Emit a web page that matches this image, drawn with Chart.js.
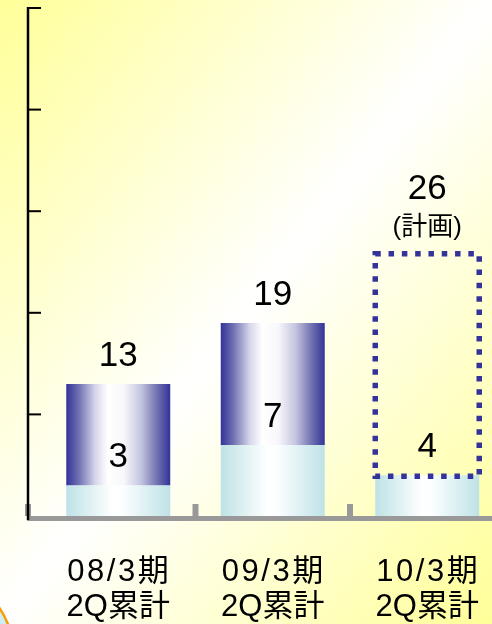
<!DOCTYPE html>
<html>
<head>
<meta charset="utf-8">
<script src="https://cdn.jsdelivr.net/npm/chart.js@4.4.0/dist/chart.umd.min.js"></script>
<style>
html, body {
  margin: 0;
  padding: 0;
  width: 492px;
  height: 624px;
  overflow: hidden;
  background: linear-gradient(to bottom right, #ffff99 0%, #ffffff 50%, #ffff99 100%);
}
#wrap { position: relative; width: 510px; height: 624px; }
</style>
</head>
<body>
<div id="wrap"><canvas id="chart" width="510" height="624"></canvas></div>
<script>
// periods (two-line labels), cumulative totals and the lower part of each bar
const periods = [["08/3期", "2Q累計"], ["09/3期", "2Q累計"], ["10/3期", "2Q累計"]];
const totals = [13, 19, 26];
const lowerPart = [3, 7, 4];
const notes = ["", "", "(計画)"];
const planned = [false, false, true];
const yTicks = [0, 10, 20, 30, 40, 50];

const upperPart = totals.map((t, i) => t - lowerPart[i]);

const NAVY = "#333399";
const FONT = '"Liberation Sans", Arial, "Noto Sans CJK JP", sans-serif';
const BAR_PCT = 0.673;

// horizontal "cylinder" shading across one bar
function barGradient(ctx, stops) {
  const chart = ctx.chart;
  const xs = chart.scales.x;
  if (!chart.chartArea || !xs) return stops[0][1];
  const cx = xs.getPixelForValue(ctx.dataIndex);
  const half = (chart.chartArea.width / periods.length) * BAR_PCT / 2;
  const g = chart.ctx.createLinearGradient(cx - half, 0, cx + half, 0);
  stops.forEach(s => g.addColorStop(s[0], s[1]));
  return g;
}

const navyStops = [
  [0, NAVY],
  [0.12, "rgb(112,112,178)"],
  [0.28, "rgb(214,214,234)"],
  [0.4, "#ffffff"],
  [0.55, "#f8f8fc"],
  [0.72, "rgb(196,196,224)"],
  [0.88, "rgb(110,110,176)"],
  [1, NAVY]
];
const cyanStops = [
  [0, "rgb(190,226,230)"],
  [0.45, "#ffffff"],
  [0.55, "#fbfeff"],
  [1, "rgb(190,226,230)"]
];

// background corner arc, axes drawn by hand
const decorPlugin = {
  id: "decor",
  beforeDatasetsDraw(chart) {
    const c = chart.ctx;
    const xs = chart.scales.x, ys = chart.scales.y;
    const base = ys.getPixelForValue(0);
    c.save();
    // corner ornament
    c.beginPath();
    c.arc(-80, 660, 95, 0, Math.PI * 2);
    c.fillStyle = "rgb(205,238,242)";
    c.fill();
    c.lineWidth = 2.5;
    c.strokeStyle = "#ff9900";
    c.stroke();

    // x axis band and its ticks
    c.fillStyle = "#999999";
    c.fillRect(27, base, chart.width - 27, 5);
    const marks = [28];
    for (let i = 0; i < periods.length - 1; i++) {
      marks.push((xs.getPixelForValue(i) + xs.getPixelForValue(i + 1)) / 2);
    }
    marks.forEach(m => c.fillRect(m - 3, base - 12, 6, 12));

    // y axis line and inward ticks
    c.strokeStyle = "#000000";
    c.lineWidth = 2.5;
    c.beginPath();
    c.moveTo(28, ys.getPixelForValue(yTicks[yTicks.length - 1]) - 1);
    c.lineTo(28, base + 4);
    c.stroke();
    c.lineWidth = 2;
    yTicks.slice(1).forEach(v => {
      const y = ys.getPixelForValue(v);
      c.beginPath();
      c.moveTo(28, y);
      c.lineTo(41, y);
      c.stroke();
    });
    c.restore();
  },
  afterDatasetsDraw(chart) {
    const c = chart.ctx;
    const lower = chart.getDatasetMeta(0).data;
    const upper = chart.getDatasetMeta(1).data;
    c.save();

    // dotted outline for the planned bar
    upper.forEach((bar, i) => {
      if (!planned[i]) return;
      const l = bar.x - bar.width / 2, r = bar.x + bar.width / 2;
      c.strokeStyle = NAVY;
      c.lineWidth = 5.5;
      c.setLineDash([5.5, 7.8]);
      c.strokeRect(l, bar.y + 2, r - l, bar.base - bar.y - 1);
      c.setLineDash([]);
    });

    c.fillStyle = "#000000";
    c.textAlign = "center";
    c.textBaseline = "middle";
    upper.forEach((bar, i) => {
      c.font = "35px " + FONT;
      if (notes[i]) {
        c.fillText(String(totals[i]), bar.x, bar.y - 62);
        c.font = "26px " + FONT;
        c.fillText(notes[i], bar.x, bar.y - 24);
      } else {
        c.fillText(String(totals[i]), bar.x, bar.y - 28);
      }
      c.font = "35px " + FONT;
      c.fillText(String(lowerPart[i]), bar.x, lower[i].y - 28);
    });

    // category labels under the axis
    c.font = "31px " + FONT;
    periods.forEach((lines, i) => {
      const x = chart.scales.x.getPixelForValue(i);
      c.letterSpacing = "2.5px";
      c.fillText(lines[0], x + 1, 572);
      c.letterSpacing = "0px";
      c.fillText(lines[1], x, 607);
    });
    c.restore();
  }
};

new Chart(document.getElementById("chart").getContext("2d"), {
  type: "bar",
  data: {
    labels: periods.map(p => p.join(" ")),
    datasets: [
      {
        data: lowerPart,
        backgroundColor: ctx => barGradient(ctx, cyanStops),
        borderWidth: 0,
        barPercentage: BAR_PCT,
        categoryPercentage: 1
      },
      {
        data: upperPart,
        backgroundColor: ctx => planned[ctx.dataIndex]
          ? "rgba(0,0,0,0)"
          : barGradient(ctx, navyStops),
        borderWidth: 0,
        barPercentage: BAR_PCT,
        categoryPercentage: 1
      }
    ]
  },
  options: {
    responsive: false,
    animation: false,
    layout: { padding: { left: 41, right: 5.5, top: 8, bottom: 108 } },
    plugins: {
      legend: { display: false },
      tooltip: { enabled: false }
    },
    scales: {
      x: { display: false, stacked: true },
      y: { display: false, stacked: true, min: 0, max: 50 }
    }
  },
  plugins: [decorPlugin]
});
</script>
</body>
</html>
